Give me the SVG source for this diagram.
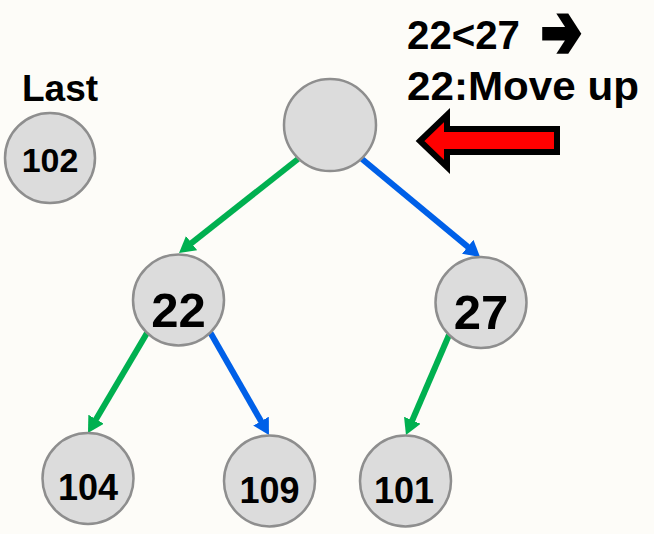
<svg xmlns="http://www.w3.org/2000/svg" width="654" height="534" viewBox="0 0 654 534">
  <style>
    .node circle { fill: #dcdcdc; stroke: #8e8e8e; stroke-width: 2.5; }
    .lbl { font-family: "Liberation Sans", Arial, sans-serif; font-weight: bold; fill: #000; text-anchor: middle; }
    .edge { fill: none; stroke-width: 6; }
    .green { stroke: #00b050; }
    .blue { stroke: #0060e8; }
    .note { font-family: "Liberation Sans", Arial, sans-serif; font-weight: bold; font-size: 41px; fill: #000; }
  </style>
  <defs>
    <marker id="headGreen" markerUnits="userSpaceOnUse" markerWidth="16" markerHeight="18" refX="1" refY="9" orient="auto" viewBox="0 0 16 18">
      <path d="M0,0 L16,9 L0,18 z" fill="#00b050"/>
    </marker>
    <marker id="headBlue" markerUnits="userSpaceOnUse" markerWidth="16" markerHeight="18" refX="1" refY="9" orient="auto" viewBox="0 0 16 18">
      <path d="M0,0 L16,9 L0,18 z" fill="#0060e8"/>
    </marker>
  </defs>

  <rect width="654" height="534" fill="#fdfcf8"/>

  <!-- status notes -->
  <g id="notes">
    <text class="note" x="407" y="49" textLength="113" lengthAdjust="spacingAndGlyphs">22&lt;27</text>
    <text transform="translate(541,57) scale(0.78,1.2)" font-family="DejaVu Sans, sans-serif" font-size="62" fill="#000" stroke="#000" stroke-width="4" stroke-linejoin="miter">➔</text>
    <text class="note" x="407" y="100" textLength="232" lengthAdjust="spacingAndGlyphs">22:Move up</text>
  </g>

  <!-- red pointer towards the root -->
  <g id="pointer">
    <polygon points="420,141 447,115 447,129 557,129 557,152 447,152 447,167" fill="#ff0000" stroke="#000" stroke-width="6" stroke-linejoin="miter"/>
  </g>

  <!-- connectors -->
  <g id="connectors">
    <line class="edge green" x1="298" y1="159" x2="190.8" y2="243.7" marker-end="url(#headGreen)"/>
    <line class="edge blue" x1="362" y1="159" x2="468.5" y2="247.4" marker-end="url(#headBlue)"/>
    <line class="edge green" x1="147" y1="333" x2="95.6" y2="420.1" marker-end="url(#headGreen)"/>
    <line class="edge blue" x1="210" y1="332" x2="261.5" y2="422" marker-end="url(#headBlue)"/>
    <line class="edge green" x1="449" y1="335" x2="411.9" y2="421.2" marker-end="url(#headGreen)"/>
  </g>

  <!-- nodes -->
  <g id="last" class="node">
    <text class="lbl" x="60" y="101" font-size="37">Last</text>
    <circle cx="50" cy="158" r="45"/>
    <text class="lbl" x="50" y="172" font-size="34">102</text>
  </g>
  <g id="root" class="node">
    <circle cx="330" cy="125" r="46"/>
  </g>
  <g id="n22" class="node">
    <circle cx="178.5" cy="300" r="45.5"/>
    <text class="lbl" x="178.5" y="327" font-size="49">22</text>
  </g>
  <g id="n27" class="node">
    <circle cx="481" cy="302.5" r="45.5"/>
    <text class="lbl" x="481" y="329" font-size="49">27</text>
  </g>
  <g id="n104" class="node">
    <circle cx="88" cy="478.5" r="45.5"/>
    <text class="lbl" x="88" y="500" font-size="36">104</text>
  </g>
  <g id="n109" class="node">
    <circle cx="269.5" cy="481" r="45.5"/>
    <text class="lbl" x="269.5" y="503" font-size="36">109</text>
  </g>
  <g id="n101" class="node">
    <circle cx="405.5" cy="481" r="45.5"/>
    <text class="lbl" x="404" y="503" font-size="36">101</text>
  </g>
</svg>
